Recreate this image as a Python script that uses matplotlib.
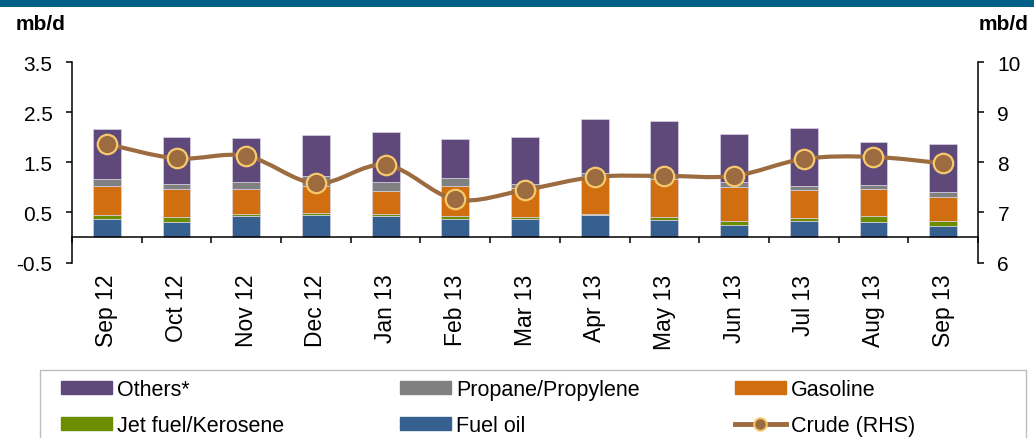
import numpy as np
import matplotlib
matplotlib.use('Agg')
import matplotlib.pyplot as plt
from matplotlib.path import Path
from matplotlib.patches import PathPatch, Rectangle, Patch
from matplotlib.lines import Line2D

plt.rcParams['font.family'] = ['Liberation Sans', 'DejaVu Sans']

# Monthly product imports (mb/d) and crude (mb/d, right axis)
months = ['Sep 12', 'Oct 12', 'Nov 12', 'Dec 12', 'Jan 13', 'Feb 13', 'Mar 13',
          'Apr 13', 'May 13', 'Jun 13', 'Jul 13', 'Aug 13', 'Sep 13']
fuel_oil = [0.36, 0.31, 0.43, 0.45, 0.43, 0.37, 0.37, 0.44, 0.35, 0.25, 0.33, 0.31, 0.23]
jet_fuel = [0.09, 0.10, 0.03, 0.03, 0.03, 0.06, 0.03, 0.03, 0.06, 0.08, 0.05, 0.12, 0.10]
gasoline = [0.58, 0.55, 0.50, 0.55, 0.47, 0.60, 0.58, 0.75, 0.76, 0.68, 0.57, 0.54, 0.48]
propane = [0.13, 0.10, 0.15, 0.19, 0.17, 0.15, 0.09, 0.06, 0.08, 0.10, 0.07, 0.07, 0.09]
others = [1.01, 0.94, 0.87, 0.83, 1.00, 0.79, 0.94, 1.08, 1.08, 0.96, 1.16, 0.87, 0.96]
crude = [8.37, 8.08, 8.13, 7.58, 7.95, 7.26, 7.45, 7.71, 7.73, 7.73, 8.07, 8.11, 7.98]

left_ticks = [-0.5, 0.5, 1.5, 2.5, 3.5]
right_ticks = [6, 7, 8, 9, 10]

c_others = '#5f497a'
c_propane = '#808080'
c_gasoline = '#d06e10'
c_jet = '#6a8e00'
c_fuel = '#36608f'
c_crude = '#9c6b40'
c_crude_edge = '#f5c96c'

W, H = 1034, 439
fig = plt.figure(figsize=(W / 100, H / 100), dpi=100)
ax = fig.add_axes([72 / W, 1 - 263.5 / H, (978 - 72) / W, 200.2 / H])
ax2 = ax.twinx()

x = np.arange(len(months))
bw = 0.4
series = [(fuel_oil, c_fuel), (jet_fuel, c_jet), (gasoline, c_gasoline),
          (propane, c_propane), (others, c_others)]
base = np.zeros(len(months))
for vals, col in series:
    ax.bar(x, vals, bw, bottom=base, color=col, edgecolor='#d8d3e4', linewidth=0.5, zorder=2)
    base += np.array(vals)

ax.set_xlim(-0.5, len(months) - 0.5)
ax.set_ylim(left_ticks[0], left_ticks[-1])
ax.set_yticks(left_ticks)
ax.set_yticklabels([f'{t:g}' for t in left_ticks])

# category axis sits at zero, labels below the plot
ax.spines['bottom'].set_position(('data', 0))
ax.spines['top'].set_visible(False)
ax.spines['right'].set_visible(False)
for s in ['left', 'bottom']:
    ax.spines[s].set_linewidth(1.1)
ax.set_xticks(np.arange(-0.5, len(months), 1.0))
ax.set_xticklabels([])
ax.set_xticks(x, labels=months, minor=True)
ax.tick_params(axis='x', which='major', direction='out', length=4, width=1.1)
ax.tick_params(axis='x', which='minor', length=0, pad=26, labelsize=16.5, labelrotation=90)
ax.tick_params(axis='y', direction='out', length=4, width=1.1, pad=10, labelsize=15)

# crude, smoothed line on the right axis
ax2.set_ylim(right_ticks[0], right_ticks[-1])
ax2.set_yticks(right_ticks)
for s in ['left', 'bottom', 'top']:
    ax2.spines[s].set_visible(False)
ax2.spines['right'].set_linewidth(1.1)
ax2.tick_params(axis='y', direction='out', length=4, width=1.1, pad=10, labelsize=15)

pts = np.column_stack([x, crude]).astype(float)
ext = np.vstack([pts[0], pts, pts[-1]])
verts = [tuple(pts[0])]
codes = [Path.MOVETO]
for i in range(len(pts) - 1):
    p0, p1, p2, p3 = ext[i], ext[i + 1], ext[i + 2], ext[i + 3]
    c1 = p1 + (p2 - p0) / 6
    c2 = p2 - (p3 - p1) / 6
    verts += [tuple(c1), tuple(c2), tuple(p2)]
    codes += [Path.CURVE4] * 3
ax2.add_patch(PathPatch(Path(verts, codes), fill=False, edgecolor=c_crude,
                        linewidth=3, capstyle='round', zorder=3))
ax2.plot(x, crude, linestyle='none', marker='o', markersize=14, markerfacecolor=c_crude,
         markeredgecolor=c_crude_edge, markeredgewidth=1.6, zorder=4)

# unit labels
fig.text(16 / W, 1 - 24 / H, 'mb/d', fontsize=15, fontweight='bold', va='center', ha='left')
fig.text(1028 / W, 1 - 24 / H, 'mb/d', fontsize=15, fontweight='bold', va='center', ha='right')

# header band
fig.add_artist(Rectangle((0, 1 - 8 / H), 1, 8 / H, transform=fig.transFigure,
                         facecolor='#006088', edgecolor='none'))

# legend frame and three columns
fig.add_artist(Rectangle((40 / W, -0.05), (1026 - 40) / W, 1 - 371 / H + 0.05,
                         transform=fig.transFigure, facecolor='none',
                         edgecolor='#bfbfbf', linewidth=1))
crude_handle = Line2D([], [], color=c_crude, linewidth=3.5, marker='o', markersize=9,
                      markerfacecolor=c_crude, markeredgecolor=c_crude_edge, markeredgewidth=1.4)
columns = [
    ([Patch(color=c_others), Patch(color=c_jet)], ['Others*', 'Jet fuel/Kerosene'], 61),
    ([Patch(color=c_propane), Patch(color=c_fuel)], ['Propane/Propylene', 'Fuel oil'], 400),
    ([Patch(color=c_gasoline), crude_handle], ['Gasoline', 'Crude (RHS)'], 735),
]
for handles, labels, xpos in columns:
    fig.legend(handles, labels, loc='upper left', bbox_to_anchor=(xpos / W, 1 - 380 / H),
               frameon=False, fontsize=15.5, borderpad=0, borderaxespad=0,
               handlelength=2.35, handleheight=0.55, handletextpad=0.25, labelspacing=0.7)

fig.savefig('out.png', dpi=100)
